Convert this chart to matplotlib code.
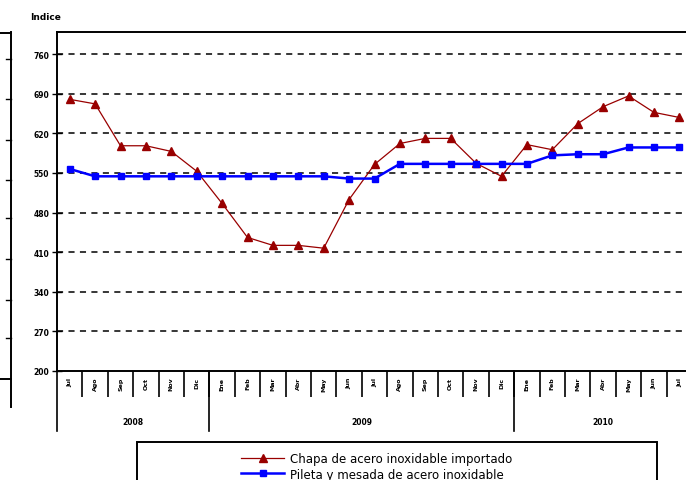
import matplotlib
matplotlib.use('Agg')
import matplotlib.pyplot as plt
import matplotlib.transforms as mtransforms
from matplotlib.patches import Rectangle
from matplotlib.lines import Line2D

# data
months = ['Jul', 'Ago', 'Sep', 'Oct', 'Nov', 'Dic',
          'Ene', 'Feb', 'Mar', 'Abr', 'May', 'Jun', 'Jul', 'Ago', 'Sep', 'Oct', 'Nov', 'Dic',
          'Ene', 'Feb', 'Mar', 'Abr', 'May', 'Jun', 'Jul']
years = ['2008', '2009', '2010']
year_counts = [6, 12, 7]
chapa = [680, 672, 598, 598, 588, 553,
         496, 436, 422, 422, 417, 503, 565, 602, 611, 611, 567, 544,
         600, 591, 637, 667, 686, 657, 648]
pileta = [557, 544, 544, 544, 544, 544,
          544, 544, 544, 544, 544, 540, 540, 566, 566, 566, 566, 566,
          566, 581, 583, 583, 595, 595, 595]
yticks = [200, 270, 340, 410, 480, 550, 620, 690, 760]
labels = ['Chapa de acero inoxidable importado', 'Pileta y mesada de acero inoxidable']

W, H = 686, 481
fig = plt.figure(figsize=(W / 100, H / 100), dpi=100)

def fx(px):
    return px / W

def fy(py):
    return 1 - py / H

# plot box runs past the right edge, like the reference
ax = fig.add_axes([fx(57), fy(372), fx(692 - 57), fy(33) - fy(372)])
x = list(range(len(months)))
ax.plot(x, chapa, color='#990000', lw=0.9, marker='^', ms=5.5, label=labels[0])
ax.plot(x, pileta, color='#0000FF', lw=1.8, marker='s', ms=5, label=labels[1])

ax.set_ylim(200, 799)
ax.set_xlim(-0.5, len(months) - 0.5)
ax.set_yticks(yticks)
ax.set_yticklabels([str(v) for v in yticks], fontsize=5.5, fontweight='bold')
ax.tick_params(axis='y', direction='inout', length=7, width=1, pad=2)
for v in yticks[1:]:
    ax.axhline(v, color='black', lw=1.1, ls=(0, (4, 3.5)), zorder=0)

for s in ['left', 'bottom', 'top']:
    ax.spines[s].set_linewidth(1.4)
ax.spines['right'].set_visible(False)

# month labels and separators
ax.set_xticks(x)
ax.set_xticklabels(months, rotation=90, fontsize=4.5, fontweight='bold')
ax.tick_params(axis='x', which='major', length=0, pad=4)
ax.set_xticks([i - 0.5 for i in range(1, len(months))], minor=True)
ax.tick_params(axis='x', which='minor', direction='out', length=19, width=1.2)

# year row
trans = mtransforms.blended_transform_factory(ax.transData, ax.transAxes)
bottom_year = (fy(432) - fy(372)) / (fy(33) - fy(372))
label_y = (fy(423) - fy(372)) / (fy(33) - fy(372))
start = 0
for yr, n in zip(years, year_counts):
    ax.add_line(Line2D([start - 0.5, start - 0.5], [0, bottom_year], transform=trans,
                       color='black', lw=1.2, clip_on=False))
    ax.text(start + (n - 1) / 2, label_y, yr, transform=trans, ha='center', va='center',
            fontsize=5.5, fontweight='bold')
    start += n

fig.text(fx(30), fy(17), 'Indice', fontsize=6.5, fontweight='bold', va='center')

# cut-off neighbour panel on the left
fig.add_artist(Line2D([fx(11), fx(11)], [fy(33), fy(408)], color='black', lw=1.4))
fig.add_artist(Line2D([0, fx(11)], [fy(34), fy(34)], color='black', lw=1.4))
fig.add_artist(Line2D([0, fx(11)], [fy(380), fy(380)], color='black', lw=1.4))
for py in [60, 100, 141, 181, 219, 260, 301, 339]:
    fig.add_artist(Line2D([fx(6), fx(11)], [fy(py), fy(py)], color='black', lw=1))

# legend box
fig.add_artist(Rectangle((fx(137), fy(490)), fx(657 - 137), fy(443) - fy(490),
                         transform=fig.transFigure, fill=False, ec='black', lw=1.4))
fig.legend(loc='upper left', bbox_to_anchor=(fx(233), fy(445)), frameon=False,
           fontsize=8.5, handlelength=3.6, handletextpad=0.5, labelspacing=0.2,
           borderpad=0.2)

fig.savefig('out.png', dpi=100)
